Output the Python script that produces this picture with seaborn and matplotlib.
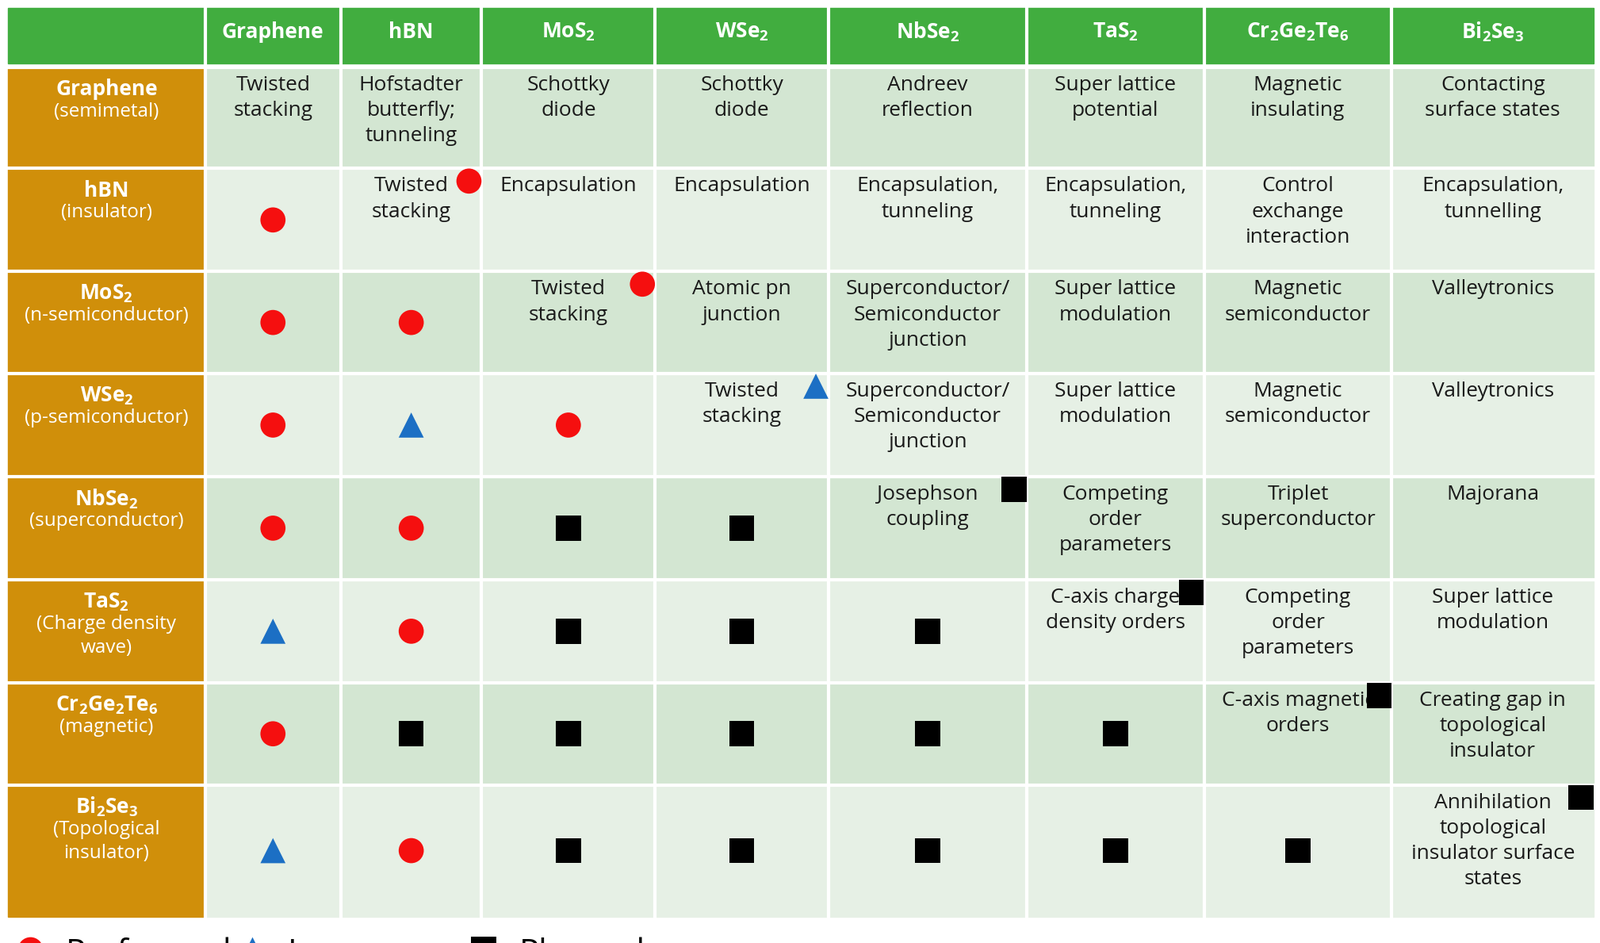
import numpy as np
import pandas as pd
import seaborn as sns
import matplotlib.pyplot as plt
from matplotlib.patches import Rectangle

# ------------------------------- datos ------------------------------- #
materiales = ["Graphene", "hBN", "MoS$_2$", "WSe$_2$", "NbSe$_2$", "TaS$_2$",
              "Cr$_2$Ge$_2$Te$_6$", "Bi$_2$Se$_3$"]
tipos = ["(semimetal)", "(insulator)", "(n-semiconductor)", "(p-semiconductor)",
         "(superconductor)", "(Charge density\nwave)", "(magnetic)", "(Topological\ninsulator)"]

textos = [
    ["Twisted\nstacking", "Hofstadter\nbutterfly;\ntunneling", "Schottky\ndiode", "Schottky\ndiode",
     "Andreev\nreflection", "Super lattice\npotential", "Magnetic\ninsulating", "Contacting\nsurface states"],
    ["Twisted\nstacking", "Encapsulation", "Encapsulation", "Encapsulation,\ntunneling",
     "Encapsulation,\ntunneling", "Control\nexchange\ninteraction", "Encapsulation,\ntunnelling"],
    ["Twisted\nstacking", "Atomic pn\njunction", "Superconductor/\nSemiconductor\njunction",
     "Super lattice\nmodulation", "Magnetic\nsemiconductor", "Valleytronics"],
    ["Twisted\nstacking", "Superconductor/\nSemiconductor\njunction", "Super lattice\nmodulation",
     "Magnetic\nsemiconductor", "Valleytronics"],
    ["Josephson\ncoupling", "Competing\norder\nparameters", "Triplet\nsuperconductor", "Majorana"],
    ["C-axis charge\ndensity orders", "Competing\norder\nparameters", "Super lattice\nmodulation"],
    ["C-axis magnetic\norders", "Creating gap in\ntopological\ninsulator"],
    ["Annihilation\ntopological\ninsulator surface\nstates"],
]

# estado por celda del triangulo inferior: P = performed, I = in progress, L = planned
estados = [
    "",
    "P",
    "PP",
    "PIP",
    "PPLL",
    "IPLLL",
    "PLLLLL",
    "IPLLLLL",
]
# marca en la esquina de la diagonal
estados_diag = ["", "P", "P", "I", "L", "L", "L", "L"]

leyenda = ["Performed", "In progress", "Planned"]

# ------------------------------ layout ------------------------------ #
W, H = 2018, 1189
x_bordes = np.array([8, 201, 334, 472, 642, 812, 1006, 1180, 1364, 1562]) * W / 1568
y_bordes = np.array([8, 62, 66, 165, 266, 366, 467, 568, 669, 769, 898]) * H / 924
verde = "#41AD3F"
naranja = "#D08F0A"
fondo = ["#D3E6D2", "#E6F0E5"]
colores = {"P": "#F50F0F", "I": "#1C6FC4", "L": "#000000"}
formas = {"P": "o", "I": "^", "L": "s"}

plt.rcParams["font.family"] = "Open Sans"
plt.rcParams["mathtext.default"] = "regular"

fig = plt.figure(figsize=(W / 100, H / 100), dpi=100)
ax = fig.add_axes([0, 0, 1, 1])
ax.set_xlim(0, W)
ax.set_ylim(H, 0)
ax.axis("off")

lw = 3
# encabezado
ax.add_patch(Rectangle((x_bordes[0], y_bordes[0]), x_bordes[-1] - x_bordes[0], y_bordes[1] - y_bordes[0],
                       color=verde, zorder=1))
for j, m in enumerate(materiales):
    xc = (x_bordes[j + 1] + x_bordes[j + 2]) / 2
    ax.text(xc, y_bordes[0] + 30, m, ha="center", va="center", color="white",
            fontsize=19, fontweight="bold", zorder=3)

filas = []
for i in range(8):
    y0, y1 = y_bordes[i + 2], y_bordes[i + 3]
    yc = (y0 + y1) / 2
    ax.add_patch(Rectangle((x_bordes[0], y0), x_bordes[1] - x_bordes[0], y1 - y0, color=naranja, zorder=1))
    ax.add_patch(Rectangle((x_bordes[1], y0), x_bordes[-1] - x_bordes[1], y1 - y0, color=fondo[i % 2], zorder=1))
    ax.text((x_bordes[0] + x_bordes[1]) / 2, y0 + 28, materiales[i], ha="center", va="center",
            color="white", fontsize=19, fontweight="bold", zorder=3)
    ax.text((x_bordes[0] + x_bordes[1]) / 2, y0 + 44, tipos[i], ha="center", va="top",
            color="white", fontsize=17.5, linespacing=1.35, zorder=3)
    for k, t in enumerate(textos[i]):
        j = i + k
        ax.text((x_bordes[j + 1] + x_bordes[j + 2]) / 2, y0 + 10, t, ha="center", va="top",
                fontsize=19, color="#1a1a1a", linespacing=1.38, zorder=3)
    for j, e in enumerate(estados[i]):
        filas.append({"x": (x_bordes[j + 1] + x_bordes[j + 2]) / 2, "y": yc, "estado": e})
    if estados_diag[i]:
        filas.append({"x": x_bordes[i + 2] - 16, "y": y0 + 16, "estado": estados_diag[i]})

# lineas blancas de la grilla
for x in x_bordes[1:-1]:
    ax.plot([x, x], [y_bordes[0], y_bordes[-1]], color="white", lw=lw, zorder=2)
for y in y_bordes[2:-1]:
    ax.plot([x_bordes[0], x_bordes[-1]], [y, y], color="white", lw=lw, zorder=2)

df = pd.DataFrame(filas)
sns.scatterplot(data=df, x="x", y="y", hue="estado", style="estado", palette=colores, markers=formas,
                s=520, linewidth=0, legend=False, ax=ax, zorder=4)

# leyenda (cortada en el borde inferior como en la referencia)
ley_x = [38, 318, 610]
ly = H + 14
for e, lx, lab in zip(["P", "I", "L"], ley_x, leyenda):
    ax.scatter([lx], [ly - 6], marker=formas[e], s=520, color=colores[e], linewidths=0, clip_on=False)
    ax.text(lx + 45, ly, lab, ha="left", va="center", fontsize=30, color="black")

fig.savefig("out.png", dpi=100)
